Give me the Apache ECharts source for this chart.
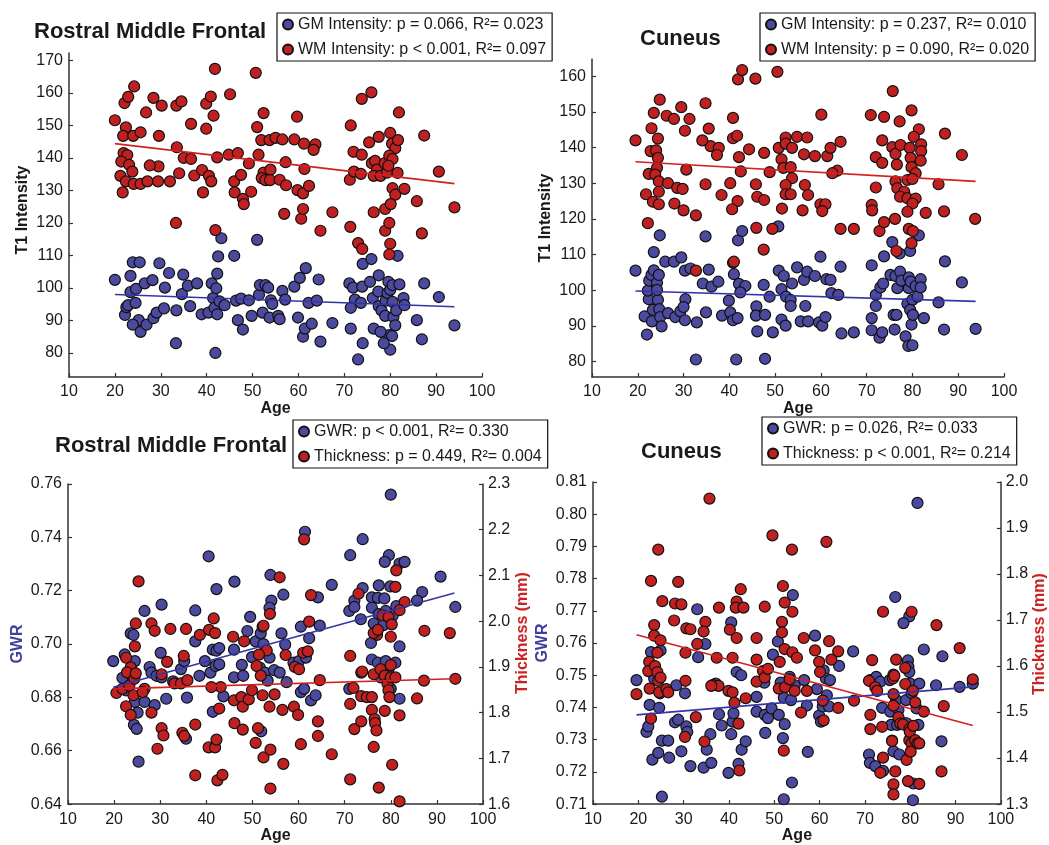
<!DOCTYPE html>
<html><head><meta charset="utf-8">
<script src="https://cdn.jsdelivr.net/npm/echarts@6.0.0/dist/echarts.min.js"></script>
<style>html,body{margin:0;padding:0;background:#fff}#c{width:1049px;height:845px}</style>
</head><body><div id="c"></div>
<script>
// ---------- data (age, value) ----------
const tlGM = [[20.0,102.5],[23.4,103.7],[23.9,107.9],[25.4,107.9],[23.4,98.7],[22.2,91.7],[22.5,94.1],[22.9,94.7],[24.6,99.7],[24.5,95.4],[25.2,90.1],[23.9,88.7],[25.6,86.5],[26.9,88.7],[28.4,90.7],[29.1,92.4],[26.5,101.4],[28.2,102.4],[29.7,107.6],[30.9,100.1],[30.7,93.7],[31.8,104.6],[33.3,83],[33.4,93.1],[34.6,98.1],[34.9,104.1],[35.9,100.7],[36.4,94.4],[37.9,101.4],[38.9,91.9],[40.4,92.4],[41.1,101.4],[41.4,96.9],[41.7,93.9],[42.3,91.9],[42.3,104.4],[42.1,99.9],[42.5,109.7],[43.2,115.3],[41.9,80],[42.8,95.9],[43.9,94.7],[46.4,96.1],[46.0,109.9],[46.8,90.1],[47.9,87.2],[47.5,96.7],[49.2,96.2],[49.8,91.4],[51.0,114.8],[51.4,97.9],[51.6,100.9],[52.8,100.9],[52.2,92.4],[53.4,100.1],[54.0,96.2],[54.3,95.1],[53.7,90.9],[55.6,91.4],[55.9,90.4],[56.5,99.1],[57.1,96.4],[59.1,100.4],[59.9,90.9],[60.3,103.1],[61.0,85],[61.4,87.5],[61.6,106.1],[62.2,95.4],[62.9,89],[64.0,96.1],[64.4,102.6],[64.8,83.5],[67.4,89.2],[71.1,101.4],[71.4,87.5],[71.9,100.1],[72.3,96.4],[71.4,93.9],[73.6,95.4],[73.9,100.4],[74.0,107.4],[74.0,83],[73.0,78],[75.6,101.9],[75.9,108.9],[76.2,96.9],[76.4,87.5],[77.4,98.9],[77.5,103.9],[77.5,94.4],[78.1,93.1],[78.9,91.4],[79.0,96.1],[79.4,98.4],[79.6,101.9],[80.0,99.4],[80.5,100.9],[80.5,95.7],[80.7,91.1],[81.1,88.5],[79.8,85.5],[80.4,85.2],[80.0,81],[81.3,93.1],[81.6,109.9],[82.0,101.1],[82.9,96.9],[83.1,94.7],[85.8,90.1],[86.9,84.2],[87.4,101.4],[90.6,97.2],[94.0,88.5],[78.6,83],[77.9,86.5]];
const tlWM = [[20.0,151.6],[22.1,156.9],[22.9,158.8],[24.2,162],[22.4,149.4],[21.8,146.8],[24.0,146.8],[25.6,147.9],[21.9,141.5],[22.7,140.9],[21.4,138.9],[23.1,137.9],[23.8,135.8],[21.2,134.5],[22.4,132.8],[21.7,129.4],[24.1,132],[25.6,132],[27.1,132.8],[29.4,132.8],[29.5,137.4],[27.6,137.7],[29.6,146.8],[26.8,154],[28.4,158.5],[30.2,156.1],[33.4,156.1],[34.5,157.4],[32.0,132.8],[34.0,135.3],[33.5,143.3],[35.0,140],[36.6,139.7],[36.6,150.5],[37.3,134.6],[39.0,136.3],[39.2,129.4],[39.9,149],[39.9,156.7],[40.9,158.9],[41.5,153],[40.5,134.5],[41.0,132.8],[41.8,167.4],[42.3,140.2],[45.1,159.6],[44.8,141],[46.8,141.5],[46.0,132.8],[46.1,129.4],[47.9,127.4],[47.5,134.8],[49.2,138.3],[49.7,129.6],[51.0,149.5],[50.7,166.2],[52.4,153.8],[51.3,141],[51.9,145.5],[52.4,135.5],[52.0,133.8],[52.8,133.2],[53.9,136.4],[53.8,133.2],[53.7,145.5],[55.0,146.2],[56.5,145.7],[55.9,133.3],[57.2,138.7],[57.3,131.6],[59.1,145.7],[59.7,152.7],[59.8,130.1],[61.0,129.1],[61.3,136.6],[62.3,131.4],[61.2,144.4],[63.7,144.2],[63.3,142.5],[71.4,150],[72.0,141.9],[73.8,141],[71.2,133.3],[72.1,135.8],[73.6,135.1],[73.8,158.2],[75.9,160.2],[75.4,144.8],[76.0,138.4],[76.7,139.1],[77.5,146.5],[77.1,136.4],[76.4,134.5],[77.9,134.5],[79.3,135.5],[78.8,138.4],[80.0,147.7],[80.4,144.4],[81.1,143],[81.7,145.5],[81.9,154],[79.8,140.7],[80.5,139.7],[79.6,137.6],[81.6,135.4],[80.5,130.7],[81.1,128.7],[83.1,130.5],[85.8,126.7],[87.4,146.9],[90.6,135.8],[94.0,124.8],[33.3,120],[41.9,117.8],[48.1,125.8],[56.9,122.8],[60.6,121.3],[61.0,124.3],[64.8,117.6],[67.4,123.3],[71.3,118.8],[73.0,113.8],[73.9,112],[76.4,123.3],[78.9,124.3],[78.9,117.6],[79.8,120],[80.0,113.6],[79.8,110.3],[80.1,125.8],[86.9,116.8]];
const trGM = [[19.5,105.5],[22.0,87.6],[21.5,92.7],[22.4,97.5],[22.2,99.9],[22.5,102.7],[23.0,104.3],[23.1,91.3],[23.3,94.5],[23.5,105.6],[23.5,110.7],[24.2,102.1],[24.6,104.3],[24.4,97.3],[24.2,100.1],[24.7,94.7],[24.9,92.5],[25.2,89.9],[24.8,115.4],[26.0,108],[26.6,93.6],[27.9,108],[28.2,92.5],[29.3,94.1],[29.5,109.2],[30.3,105.5],[30.4,97.5],[30.0,95.3],[30.3,91.6],[31.5,106.1],[32.9,91],[32.7,80.6],[34.2,101.9],[34.8,115.1],[34.9,93.8],[35.5,105.8],[36.1,101],[37.6,102.4],[38.4,92.9],[39.9,97.1],[40.2,93.8],[40.8,107.7],[41.0,104.5],[40.8,91.6],[41.8,92.2],[41.9,114],[42.8,116.6],[42.1,101.8],[43.5,101.2],[42.4,99.4],[41.5,80.6],[45.9,95.5],[45.8,92.9],[46.1,88.5],[47.5,101.5],[47.8,93.1],[47.8,80.8],[48.8,98.2],[49.5,88.2],[50.8,105.5],[50.7,117.9],[51.4,100.3],[51.4,91.8],[51.9,104],[52.3,90.1],[52.4,98.2],[53.4,97.3],[53.4,95.6],[53.7,101.9],[54.8,106.4],[55.6,91.3],[56.6,95.6],[56.3,102.9],[57.0,105.2],[57.2,91.3],[58.7,104],[59.9,109.4],[59.6,91],[60.3,90.1],[61.0,92.5],[61.2,103.1],[62.1,102.9],[62.3,99.2],[63.8,98.7],[64.3,106.6],[64.5,87.9],[67.2,88.2],[71.1,107],[72.0,98.7],[72.0,95.6],[71.1,92.2],[71.1,88.8],[72.8,86.7],[73.4,88.2],[73.8,109.5],[73.0,100.8],[73.6,101.9],[75.6,113.5],[75.2,104.3],[76.3,104],[75.9,93.1],[76.1,89],[76.7,100.6],[77.2,110.3],[77.3,105.2],[77.6,102.7],[76.5,93.1],[78.9,96.2],[79.2,103.6],[79.2,100.6],[79.6,102.4],[79.5,111],[80.0,97.3],[79.5,94.5],[78.5,87.1],[79.1,84.4],[80.0,84.6],[79.8,90.4],[80.1,93.1],[80.7,101.2],[81.1,98.2],[81.8,103.1],[81.4,115.4],[82.5,92.2],[81.8,100.8],[85.7,96.6],[87.1,108.1],[86.9,89],[90.8,102.2],[93.8,89.2]];
const trWM = [[19.5,142],[21.8,126.9],[22.4,132.6],[22.8,139],[23.0,145.4],[23.5,149.7],[24.8,153.4],[24.0,139.2],[24.4,137.1],[24.2,134.3],[23.8,132.4],[24.6,130.5],[23.3,124.8],[24.6,124.1],[24.6,127.6],[24.4,142.5],[26.3,148.9],[27.9,148],[29.5,151.3],[31.3,148],[30.3,144.7],[30.6,133.8],[26.6,130],[28.6,128.7],[29.8,128.4],[28.0,124.3],[30.0,122.4],[32.7,121],[34.8,152.4],[35.5,145.3],[35.9,140.4],[37.7,139.9],[37.3,137.9],[34.8,129.7],[34.1,142],[38.3,126.7],[40.2,130],[40.8,148.3],[40.8,142.6],[41.7,143.3],[42.1,137.3],[44.3,139.5],[42.5,133.3],[41.8,125],[40.6,122.7],[41.9,159.1],[42.8,161.7],[45.7,159.3],[50.5,161.2],[45.8,129.7],[46.1,126.2],[47.6,125.3],[47.6,138.5],[48.8,133.1],[50.8,139.9],[51.4,136.7],[51.8,134.3],[52.3,142.8],[52.3,141.1],[53.4,134.5],[53.7,131.4],[53.7,139.9],[52.3,129.5],[52.3,126.9],[53.4,126.9],[54.8,143],[57.0,142.8],[56.3,138.1],[56.5,129.5],[57.2,126.7],[51.5,122.9],[56.0,122.4],[58.7,137.6],[60.1,149.2],[61.4,137.6],[62.1,139.9],[64.3,141.6],[63.6,133.5],[62.5,132.8],[59.9,124.1],[61.0,124.1],[60.3,122.2],[70.9,149.1],[73.8,148.6],[77.2,147.3],[79.8,150.4],[75.7,155.8],[81.4,145.1],[73.4,142],[75.6,140.1],[76.3,138.2],[77.4,140.7],[79.4,139.9],[80.3,143],[81.9,140.9],[81.9,139],[72.0,137.3],[73.4,135.7],[76.6,135.2],[79.6,137.1],[79.8,134.5],[80.7,132.8],[81.8,136.3],[76.3,130.5],[76.7,128.6],[78.2,127.6],[78.9,130.9],[80.0,131.2],[77.3,126.2],[78.9,125.8],[80.7,125.7],[72.0,128.8],[71.1,123.9],[71.2,122.4],[80.0,124.3],[78.9,122],[82.9,121.7],[85.7,129.7],[87.1,143.9],[86.9,122.1],[90.8,137.9],[22.2,118.8],[32.7,105.5],[41.0,108],[45.9,117.5],[47.5,111.4],[49.4,117.2],[64.3,117.2],[67.2,117.2],[72.8,116.6],[73.8,119.1],[76.2,120],[76.5,111],[79.2,117.2],[80.1,116.6],[79.8,113.2],[93.7,120]];
const blGWR = [[80.0,0.756],[61.4,0.7421],[73.9,0.7393],[40.5,0.7329],[71.2,0.7333],[79.6,0.7333],[78.7,0.7308],[81.9,0.7302],[83.0,0.7308],[46.1,0.7234],[53.9,0.7259],[90.8,0.7253],[42.2,0.7206],[67.2,0.7222],[56.7,0.7185],[64.2,0.7175],[73.9,0.721],[77.4,0.722],[79.9,0.7216],[75.9,0.7175],[77.2,0.7173],[78.6,0.7171],[86.8,0.7195],[85.7,0.7163],[94.0,0.7139],[72.1,0.7163],[71.0,0.7124],[72.1,0.7139],[54.1,0.7163],[53.7,0.7136],[30.3,0.7148],[26.6,0.7124],[37.6,0.7126],[49.5,0.7102],[75.9,0.7136],[77.4,0.7112],[80.4,0.7106],[78.9,0.7124],[81.2,0.7142],[73.5,0.7093],[64.6,0.7069],[60.5,0.7065],[19.8,0.6936],[23.6,0.704],[24.2,0.7034],[22.3,0.6961],[21.8,0.6873],[22.6,0.6826],[24.5,0.6936],[23.6,0.6887],[24.5,0.6783],[25.1,0.6743],[24.3,0.6697],[24.9,0.6682],[25.3,0.6559],[26.6,0.6783],[27.7,0.6914],[28.1,0.6893],[29.2,0.6881],[28.8,0.6771],[30.1,0.6967],[30.3,0.6875],[31.3,0.6795],[32.8,0.686],[34.5,0.6906],[35.2,0.6936],[35.8,0.6799],[35.6,0.6645],[37.6,0.701],[38.5,0.6881],[39.7,0.6936],[40.9,0.6893],[41.4,0.6979],[42.0,0.6918],[42.8,0.6924],[41.4,0.6746],[43.7,0.6804],[42.2,0.6975],[42.8,0.6985],[46.0,0.6979],[46.0,0.6875],[48.0,0.6881],[47.7,0.6922],[48.9,0.7049],[49.9,0.6951],[50.7,0.701],[51.8,0.704],[52.4,0.70],[52.2,0.7065],[51.6,0.6912],[52.7,0.6893],[53.3,0.6863],[53.7,0.6949],[51.9,0.6673],[54.7,0.6902],[55.9,0.6893],[56.3,0.704],[57.1,0.6998],[57.4,0.6857],[58.9,0.693],[60.1,0.6936],[60.5,0.682],[61.2,0.6832],[61.6,0.6949],[62.3,0.7022],[62.7,0.6789],[63.7,0.6808],[71.0,0.6832],[73.6,0.6893],[75.7,0.7004],[75.9,0.6942],[76.3,0.7077],[77.0,0.704],[77.2,0.693],[77.8,0.6875],[78.4,0.7071],[78.9,0.6936],[79.5,0.6906],[80.0,0.6832],[81.0,0.693],[81.9,0.6991],[81.9,0.6795]];
const blThk = [[25.3,2.087],[61.2,2.179],[55.9,2.096],[62.7,2.057],[81.2,2.111],[81.0,2.075],[73.0,2.06],[83.0,2.042],[81.9,2.024],[24.7,1.995],[28.1,1.995],[28.8,1.979],[32.2,1.983],[35.6,1.983],[38.6,1.97],[40.6,1.981],[41.6,2.006],[41.9,1.974],[45.8,1.966],[48.2,1.956],[52.4,1.99],[53.1,1.936],[53.8,2.016],[57.2,1.926],[62.3,1.999],[61.0,1.931],[62.0,1.934],[71.2,1.924],[78.2,2.013],[79.5,2.009],[80.2,1.993],[80.0,1.966],[77.0,1.97],[76.3,1.974],[77.2,1.981],[87.3,1.979],[92.8,1.974],[87.2,1.87],[94.0,1.874],[20.5,1.843],[21.8,1.852],[22.6,1.92],[23.6,1.899],[22.8,1.888],[23.3,1.859],[24.4,1.874],[24.7,1.886],[24.2,1.838],[22.6,1.814],[23.6,1.795],[24.5,1.945],[26.6,1.852],[26.2,1.845],[28.1,1.8],[29.4,1.721],[30.3,1.766],[30.3,1.884],[30.7,1.75],[31.5,1.911],[33.1,1.864],[34.5,1.864],[35.1,1.924],[35.9,1.871],[34.8,1.756],[35.2,1.749],[37.6,1.774],[37.6,1.663],[40.5,1.724],[41.9,1.724],[42.2,1.741],[42.4,1.652],[43.5,1.664],[42.8,1.809],[43.1,1.856],[41.1,1.856],[46.0,1.827],[46.1,1.777],[47.6,1.834],[47.9,1.813],[47.9,1.763],[49.2,1.829],[49.9,1.849],[50.9,1.902],[51.4,1.927],[51.8,1.881],[50.7,1.734],[51.2,1.766],[52.2,1.838],[52.4,1.702],[53.7,1.813],[53.9,1.719],[53.9,1.634],[54.8,1.84],[56.5,1.806],[56.7,1.688],[59.2,1.9],[59.0,1.813],[59.9,1.795],[60.1,1.895],[60.5,1.731],[64.2,1.781],[64.2,1.749],[64.6,1.871],[67.2,1.709],[71.2,1.819],[71.2,1.654],[71.9,1.854],[72.1,1.764],[73.6,1.781],[73.8,1.89],[73.6,1.836],[74.8,1.834],[75.9,1.834],[75.9,1.806],[76.3,1.884],[76.3,1.725],[76.5,1.786],[76.6,1.777],[76.9,1.761],[77.4,1.636],[77.8,1.895],[78.7,1.881],[78.7,1.804],[79.3,1.863],[79.5,1.849],[79.7,1.834],[80.0,1.904],[80.0,1.877],[80.3,1.686],[81.0,1.877],[81.9,1.794],[81.9,1.606],[85.7,1.831]];
const brGWR = [[81.6,0.8035],[54.1,0.7749],[76.7,0.7743],[33.0,0.7705],[79.8,0.7683],[19.6,0.7485],[21.8,0.7324],[22.2,0.7341],[22.5,0.7408],[22.8,0.7572],[23.1,0.7238],[23.5,0.749],[24.4,0.7259],[24.6,0.7399],[24.9,0.7577],[24.8,0.7444],[25.2,0.7297],[25.2,0.7123],[26.6,0.7297],[26.8,0.7244],[28.1,0.7354],[28.4,0.7469],[28.8,0.7362],[29.5,0.7264],[30.3,0.7444],[30.6,0.7341],[30.8,0.7324],[31.5,0.7218],[33.2,0.7556],[34.4,0.7213],[34.8,0.7597],[35.1,0.7269],[35.9,0.7317],[36.1,0.7228],[37.1,0.7474],[37.8,0.7379],[38.4,0.7344],[39.9,0.7197],[40.5,0.7664],[40.5,0.7317],[40.8,0.7356],[41.0,0.7382],[41.7,0.751],[42.1,0.7225],[42.7,0.75],[42.8,0.7269],[43.7,0.7295],[46.1,0.7433],[46.1,0.7387],[47.8,0.7477],[47.9,0.7377],[48.0,0.7321],[48.6,0.7367],[49.4,0.7397],[49.7,0.7564],[50.8,0.7605],[51.0,0.7377],[51.4,0.7477],[52.1,0.743],[52.3,0.7348],[52.1,0.7115],[51.9,0.7305],[53.9,0.7167],[53.4,0.7495],[53.7,0.7423],[54.5,0.7469],[56.6,0.7485],[57.2,0.7406],[57.4,0.7262],[59.0,0.7623],[59.4,0.7457],[59.9,0.7375],[60.3,0.7356],[60.7,0.7403],[60.9,0.7515],[61.4,0.749],[61.6,0.7438],[62.1,0.7403],[62.3,0.7485],[64.3,0.7529],[67.4,0.7574],[70.9,0.7254],[71.1,0.7228],[71.2,0.7485],[72.3,0.7218],[72.5,0.7495],[73.4,0.748],[73.8,0.7399],[74.0,0.7203],[75.5,0.7485],[75.6,0.7387],[75.8,0.7346],[76.0,0.7297],[76.3,0.7264],[76.3,0.7502],[76.9,0.7423],[77.1,0.7346],[77.4,0.7392],[77.6,0.7254],[78.5,0.7662],[78.7,0.7351],[79.1,0.7423],[79.2,0.7351],[79.5,0.7546],[79.6,0.7526],[79.8,0.751],[80.0,0.7474],[80.3,0.7444],[80.6,0.7112],[80.7,0.7164],[81.4,0.7397],[81.8,0.7346],[82.0,0.7474],[83.0,0.758],[85.7,0.7469],[87.1,0.7559],[86.9,0.7295],[90.9,0.7464],[93.8,0.7474]];
const brThk = [[35.7,1.964],[49.6,1.884],[61.5,1.87],[53.9,1.853],[24.4,1.853],[22.8,1.785],[28.8,1.783],[25.3,1.741],[28.1,1.736],[29.5,1.734],[37.8,1.727],[41.7,1.74],[41.5,1.727],[43.2,1.727],[42.6,1.767],[47.9,1.729],[51.9,1.774],[52.3,1.738],[23.5,1.689],[27.9,1.699],[30.6,1.682],[31.5,1.68],[34.8,1.696],[34.4,1.675],[33.0,1.648],[30.4,1.629],[37.3,1.618],[36.5,1.559],[37.7,1.557],[40.2,1.679],[40.8,1.618],[41.7,1.661],[39.9,1.546],[40.8,1.543],[41.2,1.52],[42.1,1.475],[42.3,1.373],[43.7,1.53],[46.1,1.661],[46.1,1.614],[46.1,1.566],[47.5,1.589],[47.9,1.575],[48.6,1.594],[51.0,1.551],[51.2,1.609],[51.7,1.696],[51.7,1.673],[52.3,1.637],[52.4,1.554],[52.1,1.416],[53.4,1.571],[54.0,1.63],[54.0,1.718],[54.5,1.546],[55.0,1.618],[55.9,1.499],[56.5,1.661],[57.2,1.546],[59.0,1.634],[59.9,1.609],[60.1,1.587],[60.7,1.525],[60.9,1.482],[62.1,1.654],[62.6,1.614],[64.1,1.632],[64.1,1.509],[67.6,1.525],[71.6,1.613],[70.9,1.568],[71.2,1.494],[71.2,1.463],[72.3,1.554],[72.7,1.546],[73.8,1.468],[74.0,1.401],[74.0,1.718],[73.4,1.368],[76.2,1.573],[76.5,1.579],[76.9,1.614],[76.3,1.539],[76.3,1.514],[76.0,1.437],[76.7,1.371],[76.3,1.343],[76.3,1.321],[77.4,1.489],[77.8,1.475],[78.4,1.473],[78.9,1.596],[78.9,1.561],[79.2,1.396],[79.5,1.35],[79.8,1.463],[79.8,1.439],[79.9,1.457],[80.3,1.432],[80.1,1.414],[80.6,1.546],[81.1,1.521],[81.1,1.439],[81.6,1.432],[82.0,1.432],[82.0,1.344],[83.0,1.501],[80.7,1.47],[80.3,1.718],[85.8,1.689],[87.4,1.513],[86.9,1.371],[90.9,1.639],[93.8,1.571],[19.6,1.539],[22.4,1.609],[22.2,1.589],[22.5,1.551],[23.5,1.666],[23.7,1.6],[24.2,1.587],[24.4,1.568],[24.6,1.543],[24.9,1.656],[24.2,1.629],[26.2,1.55],[26.6,1.543],[24.9,1.575],[22.8,1.486],[30.4,1.568],[30.3,1.446],[32.7,1.489],[34.6,1.436],[36.1,1.557]];
// regression lines (end points)
const tlGMfit = [[20,98.0],[94,94.2]];
const tlWMfit = [[20,144.4],[94,132.1]];
const trGMfit = [[19.5,99.8],[93.8,96.9]];
const trWMfit = [[19.5,136.0],[93.8,130.5]];
const blGWRfit = [[19.8,0.6838],[93.8,0.7191]];
const blThkfit = [[19.8,1.852],[93.8,1.874]];
const brGWRfit = [[19.6,0.7377],[93.8,0.7464]];
const brThkfit = [[19.6,1.668],[93.8,1.471]];
// labels
const titles = ['Rostral Middle Frontal','Cuneus','Rostral Middle Frontal','Cuneus'];
const legTL = ['GM Intensity: p = 0.066, R²= 0.023','WM Intensity: p < 0.001, R²= 0.097'];
const legTR = ['GM Intensity: p = 0.237, R²= 0.010','WM Intensity: p = 0.090, R²= 0.020'];
const legBL = ['GWR: p < 0.001, R²= 0.330','Thickness: p = 0.449, R²= 0.004'];
const legBR = ['GWR: p = 0.026, R²= 0.033','Thickness: p < 0.001, R²= 0.214'];
const tlTicks = [80,90,100,110,120,130,140,150,160,170];
const trTicks = [80,90,100,110,120,130,140,150,160];

// ---------- chart ----------
const FONT = '"Liberation Sans", Arial, Helvetica, sans-serif';
const BLUE = '#4c4a9f', RED = '#c0201f', INK = '#1a1a1a', AX = '#333';
const chart = echarts.init(document.getElementById('c'), null, {renderer:'canvas'});

function xAx(gi){
  return {type:'value', gridIndex:gi, min:10, max:100, interval:10,
    name:'Age', nameLocation:'middle', nameGap:20,
    nameTextStyle:{fontFamily:FONT, fontSize:16, fontWeight:'bold', color:INK},
    axisLine:{show:true, onZero:false, lineStyle:{color:AX, width:1.5}},
    axisTick:{show:true, inside:true, length:4, lineStyle:{color:AX, width:1.2}},
    axisLabel:{fontFamily:FONT, fontSize:16, color:INK, margin:7},
    splitLine:{show:false}};
}
function yAx(gi, o){
  const base = {type:'value', gridIndex:gi, nameLocation:'middle', nameRotate:90,
    axisLine:{show:true, onZero:false, lineStyle:{color:AX, width:1.5}},
    axisTick:{show:true, inside:true, length:4, lineStyle:{color:AX, width:1.2}},
    axisLabel:{fontFamily:FONT, fontSize:16, color:INK, margin:6},
    splitLine:{show:false}};
  return Object.assign(base, o);
}
function sc(name, data, xi, yi, color){
  return {type:'scatter', name, data, xAxisIndex:xi, yAxisIndex:yi, symbol:'circle', symbolSize:11,
    itemStyle:{color, borderColor:'#111', borderWidth:1.2, opacity:1}, z:2, silent:true};
}
function fl(data, xi, yi, color){
  return {type:'line', data, xAxisIndex:xi, yAxisIndex:yi, showSymbol:false, symbol:'none',
    lineStyle:{color, width:1.6}, z:4, silent:true};
}
function leg(left, top, data){
  return {left, top, orient:'vertical', data, icon:'circle', itemWidth:10, itemHeight:10, itemGap:6,
    padding:[2,6,2,5], borderColor:'#111', borderWidth:1.2, backgroundColor:'#fff', selectedMode:false,
    textStyle:{fontFamily:FONT, fontSize:16, color:INK, lineHeight:19}};
}
function ttl(text, left, top){
  return {text, left, top, padding:0, textStyle:{fontFamily:FONT, fontSize:22, fontWeight:'bold', color:INK}};
}
const nameStyle = (c, pad)=>({fontFamily:FONT, fontSize:16, fontWeight:'bold', color:c, padding:pad||0});

chart.setOption({
  animation:false,
  backgroundColor:'#fff',
  title:[ttl(titles[0],34,21), ttl(titles[1],640,28), ttl(titles[2],55,435), ttl(titles[3],641,441)],
  legend:[leg(277,13,legTL), leg(760,13,legTR), leg(293,420,legBL), leg(762,417,legBR)],
  grid:[
    {left:69, top:53, width:413, height:324},
    {left:592, top:59, width:412, height:318},
    {left:68, top:484, width:415, height:325},
    {left:593, top:482, width:412, height:325}
  ],
  xAxis:[xAx(0), xAx(1), xAx(2), xAx(3)],
  yAxis:[
    yAx(0,{min:72.6, max:172.3, name:'T1 Intensity', nameGap:38, nameTextStyle:nameStyle(INK,[0,0,0,10]),
      axisLabel:{fontFamily:FONT, fontSize:16, color:INK, margin:6, customValues:tlTicks},
      axisTick:{show:true, inside:true, length:4, lineStyle:{color:AX, width:1.2}, customValues:tlTicks}}),
    yAx(1,{min:75.7, max:164.8, name:'T1 Intensity', nameGap:38, nameTextStyle:nameStyle(INK),
      axisLabel:{fontFamily:FONT, fontSize:16, color:INK, margin:6, customValues:trTicks},
      axisTick:{show:true, inside:true, length:4, lineStyle:{color:AX, width:1.2}, customValues:trTicks}}),
    yAx(2,{min:0.64, max:0.76, interval:0.02, name:'GWR', nameGap:42, nameTextStyle:nameStyle('#3f3f9f'),
      axisLabel:{fontFamily:FONT, fontSize:16, color:INK, margin:6, formatter:v=>v.toFixed(2)}}),
    yAx(2,{position:'right', min:1.6, max:2.3, interval:0.1, name:'Thickness (mm)', nameGap:28, nameTextStyle:nameStyle('#cc2222',[0,0,0,22]),
      axisLabel:{fontFamily:FONT, fontSize:16, color:INK, margin:5, formatter:v=>v.toFixed(1)}}),
    yAx(3,{min:0.71, max:0.81, interval:0.01, name:'GWR', nameGap:42, nameTextStyle:nameStyle('#3f3f9f'),
      axisLabel:{fontFamily:FONT, fontSize:16, color:INK, margin:6, formatter:v=>v.toFixed(2)}}),
    yAx(3,{position:'right', min:1.3, max:2.0, interval:0.1, name:'Thickness (mm)', nameGap:28, nameTextStyle:nameStyle('#cc2222',[0,0,0,18]),
      axisLabel:{fontFamily:FONT, fontSize:16, color:INK, margin:5, formatter:v=>v.toFixed(1)}})
  ],
  series:[
    sc(legTL[0], tlGM, 0, 0, BLUE), sc(legTL[1], tlWM, 0, 0, RED),
    fl(tlGMfit, 0, 0, '#3535a8'), fl(tlWMfit, 0, 0, '#d42020'),
    sc(legTR[0], trGM, 1, 1, BLUE), sc(legTR[1], trWM, 1, 1, RED),
    fl(trGMfit, 1, 1, '#3535a8'), fl(trWMfit, 1, 1, '#d42020'),
    sc(legBL[0], blGWR, 2, 2, BLUE), sc(legBL[1], blThk, 2, 3, RED),
    fl(blGWRfit, 2, 2, '#3535a8'), fl(blThkfit, 2, 3, '#d42020'),
    sc(legBR[0], brGWR, 3, 4, BLUE), sc(legBR[1], brThk, 3, 5, RED),
    fl(brGWRfit, 3, 4, '#3535a8'), fl(brThkfit, 3, 5, '#d42020')
  ]
});
</script></body></html>
